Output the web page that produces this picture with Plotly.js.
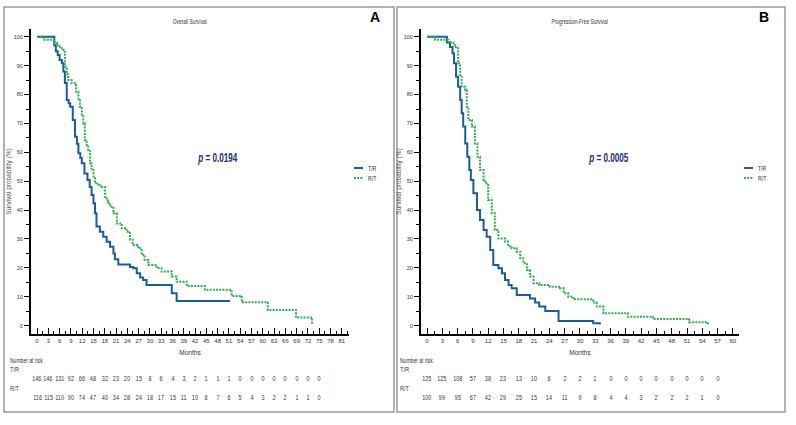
<!DOCTYPE html>
<html><head><meta charset="utf-8">
<script src="https://cdn.plot.ly/plotly-3.0.1.min.js"></script>
<style>html,body{margin:0;padding:0;background:#fff}#chart{width:796px;height:425px}</style>
</head><body><div id="chart"></div><script>
// ---- Overall survival (panel A) ----
const osTrMonths = [0,4.6,5.0,5.5,6.0,6.6,7.0,7.4,7.9,8.4,8.8,9.5,10.1,10.6,11.0,11.5,11.9,12.6,13.4,14.0,14.5,15.0,15.4,15.8,16.7,17.6,18.5,19.4,20.3,20.7,21.6,24.7,25.6,26.5,27.4,28.2,29.1,35.8,37.1,51.3];
const osTrSurv   = [100,97,95,93.7,92,90.8,88,84,78.1,77,75.8,71.2,65.4,63,59.7,58,56.2,52.7,50.4,48,45.2,42.4,38.9,34.3,32.5,30.8,29,27.3,25,23,21.2,20.3,19.9,18.1,16.7,15.8,14.1,11.2,8.5,8.5];
const osRtMonths = [0,1.7,4.5,5.3,6.1,7.0,7.4,7.9,8.3,9.2,10.4,11.0,11.4,11.9,12.3,12.7,13.2,13.6,14.1,14.5,15.0,15.4,16.3,17.2,18.1,18.8,19.4,20.3,21.2,22.5,23.8,24.7,25.4,26.9,27.8,28.6,29.6,31.8,33.1,35.8,37.1,39.8,44.6,51.7,54.4,61.3,68.8,73.1];
const osRtSurv   = [100,99,98,97,96,94.8,89.6,87,85,83.9,81,78,75.8,73,70,64.3,62.5,60.8,56.2,53.9,51.6,49.3,48.5,48,44,42.5,41.2,38.9,35.4,33.7,32.5,29.7,27.9,26.8,24.5,22.7,21,19.9,18.7,17,15.2,13.7,12.4,10.3,8.1,5.4,2.8,0.5];
const osRiskMonths = [0,3,6,9,12,15,18,21,24,27,30,33,36,39,42,45,48,51,54,57,60,63,66,69,72,75];
const osRiskTR = [146,146,131,92,66,48,32,23,20,15,8,6,4,3,2,1,1,1,0,0,0,0,0,0,0,0];
const osRiskRT = [116,115,110,90,74,47,40,34,28,24,18,17,15,11,10,8,7,6,5,4,3,2,2,1,1,0];

// ---- Progression-free survival (panel B) ----
const pfsTrMonths = [0,3.9,4.5,5.0,5.3,5.7,6.1,6.5,6.8,7.1,7.5,7.9,8.3,8.6,9.1,9.8,10.4,11.1,11.7,12.4,13.0,14.0,14.7,15.3,16.0,16.6,17.6,20.2,21.2,22.0,23.2,25.8,32.6,33.9];
const pfsTrSurv   = [100,98,96.5,94.3,90.8,86.2,82.7,78.1,73.5,68.9,63.1,58.5,53.9,50.4,45.8,40,36.6,33.1,30.8,26.2,21,19.9,18.1,15.8,14.1,12.9,10.6,9.4,8,6.6,5.1,1.6,0.8,0.4];
const pfsRtMonths = [0,1.6,4.2,5.2,5.7,6.1,6.5,6.8,7.5,7.8,8.1,8.8,9.4,9.9,10.4,11.1,11.4,12.0,12.7,13.3,14.0,15.3,15.9,16.6,17.6,18.3,18.9,19.6,20.2,20.9,22.0,24.1,26.1,26.8,27.7,28.7,32.6,33.3,34.6,39.4,44.3,51.4,55.1];
const pfsRtSurv   = [100,99,98,97.1,96,90.8,86.2,82.7,81.6,75.8,71.2,68.9,63.1,58.5,53.9,50.4,49.3,43.5,38.9,33.1,30.2,29.1,27.5,26.8,25.6,23.3,21.6,19.3,17,14.7,14.1,13.5,12.9,11.2,10,9.1,8,6.6,4.3,3.1,2.3,1.2,0.4];
const pfsRiskMonths = [0,3,6,9,12,15,18,21,24,27,30,33,36,39,42,45,48,51,54,57];
const pfsRiskTR = [125,125,108,57,38,23,13,10,6,2,2,1,0,0,0,0,0,0,0,0];
const pfsRiskRT = [100,99,95,67,42,29,25,15,14,11,9,8,4,4,3,2,2,2,1,0];

const groupNames = ['T/R','R/T'];
const panelTitles = ['Overall Survival','Progression-Free Survival'];
const pValues = ['0.0194','0.0005'];
const panelLetters = ['A','B'];

const W = 796, H = 425;
const px = x => x / W;
const py = y => 1 - y / H;
const SMALL = 'Liberation Sans, Arial, sans-serif';
const BLUE = '#1b5c9f', GREEN = '#2bb24c', PBLUE = '#1f2a80';

const blueLine = {color: BLUE, width: 2, shape: 'hv'};
const greenLine = {color: GREEN, width: 2, shape: 'hv', dash: '2px,1.2px'};

const traces = [
  {x: osTrMonths, y: osTrSurv, xaxis: 'x', yaxis: 'y', mode: 'lines', line: blueLine, name: groupNames[0]},
  {x: osRtMonths, y: osRtSurv, xaxis: 'x', yaxis: 'y', mode: 'lines', line: greenLine, name: groupNames[1]},
  {x: pfsTrMonths, y: pfsTrSurv, xaxis: 'x2', yaxis: 'y2', mode: 'lines', line: blueLine, name: groupNames[0]},
  {x: pfsRtMonths, y: pfsRtSurv, xaxis: 'x2', yaxis: 'y2', mode: 'lines', line: greenLine, name: groupNames[1]}
];

function xAxis(domain, range, anchor) {
  return {
    domain: domain, range: range, anchor: anchor,
    tick0: 0, dtick: 3, ticks: 'inside', ticklen: 6, tickwidth: 1, tickcolor: '#000',
    minor: {dtick: 1.5, ticks: 'inside', ticklen: 3, tickwidth: 1, tickcolor: '#000'},
    showline: true, linewidth: 2, linecolor: '#000', showgrid: false, zeroline: false,
    tickfont: {family: SMALL, size: 6, color: '#333'},
    title: {text: 'Months', font: {family: SMALL, size: 6.5, color: '#333'}, standoff: 7},
    fixedrange: true
  };
}
function yAxis(anchor) {
  return {
    domain: [py(334), py(29)], range: [-2.9, 102.7], anchor: anchor,
    tick0: 0, dtick: 10, ticks: 'outside', ticklen: 5, tickwidth: 1, tickcolor: '#000',
    minor: {dtick: 5, ticks: 'outside', ticklen: 3, tickwidth: 1, tickcolor: '#000'},
    showline: true, linewidth: 2, linecolor: '#000', showgrid: false, zeroline: false,
    tickfont: {family: SMALL, size: 5.5, color: '#333'},
    title: {text: 'Survival probability (%)', font: {family: SMALL, size: 6.5, color: '#555'}, standoff: 1},
    fixedrange: true
  };
}

const annotations = [];
const squeeze = [];
const shapes = [];
function label(x, y, text, font, xanchor, xref, sq) {
  const anchor = xanchor || 'center';
  annotations.push({xref: xref || 'paper', yref: 'paper', x: xref ? x : px(x), y: py(y), text: text,
                    showarrow: false, xanchor: anchor, yanchor: 'middle', align: anchor, font: font});
  squeeze.push(sq || 1);
}
const panels = [
  {xref: 'x', left: 4, right: 394, titleX: 190, letterX: 375, pX: 217, legX: 354, labX: 8,
   months: osRiskMonths, tr: osRiskTR, rt: osRiskRT},
  {xref: 'x2', left: 397, right: 785, titleX: 580, letterX: 764, pX: 608, legX: 744, labX: 398,
   months: pfsRiskMonths, tr: pfsRiskTR, rt: pfsRiskRT}
];
const smallFont = {family: SMALL, size: 6.5, color: '#333'};
const riskFont = {family: SMALL, size: 7, color: '#333'};
panels.forEach((p, i) => {
  shapes.push({type: 'rect', xref: 'paper', yref: 'paper', x0: px(p.left), x1: px(p.right), y0: py(412), y1: py(7),
               line: {color: '#9a9a9a', width: 1.5}});
  label(p.titleX, 22, panelTitles[i], {family: SMALL, size: 6.5, color: '#333'}, 'center', null, 0.75);
  label(p.letterX, 17, '<b>' + panelLetters[i] + '</b>', {family: SMALL, size: 14, color: '#000'});
  label(p.pX, 158, '<b><i>p</i> = ' + pValues[i] + '</b>', {family: SMALL, size: 12, color: PBLUE}, 'center', null, 0.68);
  // legend
  shapes.push({type: 'line', xref: 'paper', yref: 'paper', x0: px(p.legX), x1: px(p.legX + 9), y0: py(168), y1: py(168),
               line: {color: BLUE, width: 2}});
  shapes.push({type: 'line', xref: 'paper', yref: 'paper', x0: px(p.legX), x1: px(p.legX + 9), y0: py(178), y1: py(178),
               line: {color: GREEN, width: 2, dash: '2px,1.2px'}});
  label(p.legX + 12, 168, groupNames[0], smallFont, 'left', null, 0.8);
  label(p.legX + 12, 178, groupNames[1], smallFont, 'left', null, 0.8);
  // risk table
  label(p.labX, 360, 'Number at risk', riskFont, 'left', null, 0.72);
  label(p.labX, 369, groupNames[0], riskFont, 'left', null, 0.8);
  label(p.labX, 388, groupNames[1], riskFont, 'left', null, 0.8);
  p.months.forEach((m, j) => {
    label(m, 378, String(p.tr[j]), riskFont, 'center', p.xref, 0.78);
    label(m, 397, String(p.rt[j]), riskFont, 'center', p.xref, 0.78);
  });
});

const layout = {
  width: W, height: H, margin: {l: 0, r: 0, t: 0, b: 0},
  paper_bgcolor: '#fff', plot_bgcolor: '#fff', showlegend: false,
  xaxis: xAxis([px(31), px(349)], [-1.6, 82.9], 'y'),
  yaxis: yAxis('x'),
  xaxis2: xAxis([px(421), px(739)], [-1.18, 61.2], 'y2'),
  yaxis2: yAxis('x2'),
  shapes: shapes, annotations: annotations
};
Plotly.newPlot('chart', traces, layout, {staticPlot: true}).then(gd => {
  // condensed text look: scale annotation texts horizontally about their anchor
  gd.querySelectorAll('g.annotation').forEach(g => {
    const idx = +g.getAttribute('data-index');
    const f = squeeze[idx];
    if (!f || f === 1) return;
    const t = g.querySelector('text.annotation-text');
    if (!t) return;
    const bb = t.getBBox();
    const a = annotations[idx].xanchor;
    const cx = a === 'left' ? bb.x : bb.x + bb.width / 2;
    t.setAttribute('transform', 'translate(' + cx + ',0) scale(' + f + ',1) translate(' + (-cx) + ',0)');
  });
});
</script></body></html>
